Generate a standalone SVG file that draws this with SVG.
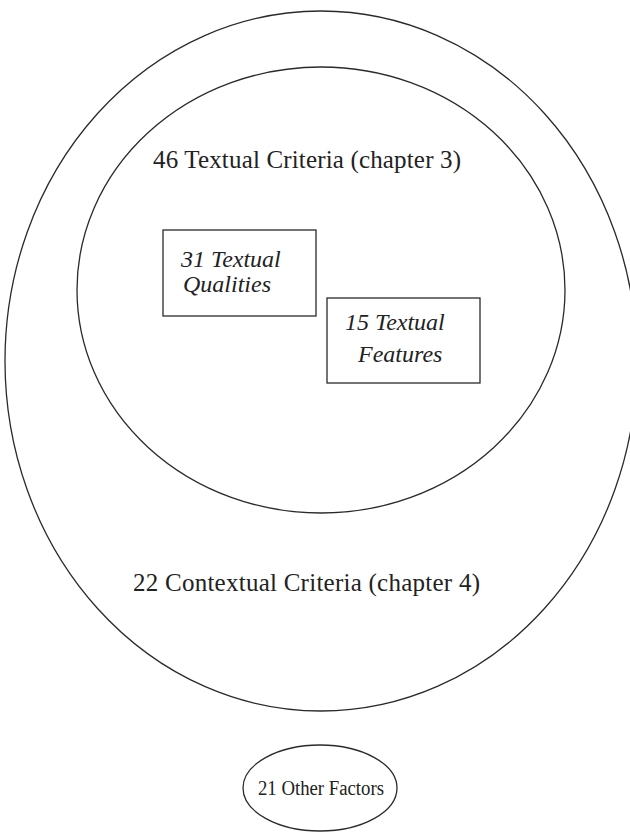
<svg xmlns="http://www.w3.org/2000/svg" width="630" height="832" viewBox="0 0 630 832">
<style>
.ln{fill:none;stroke:#2a2a2a;stroke-width:1.3}
text{font-family:'Liberation Serif','Times New Roman',Times,serif;fill:#222}
.t{font-size:25px}
.ti{font-size:24px;font-style:italic}
</style>
<rect width="630" height="832" fill="#fff"/>
<g id="contextual">
<ellipse class="ln" cx="321" cy="361" rx="316" ry="350"/>
<text class="t" x="133" y="591" textLength="347" font-family="Liberation Serif, serif">22 Contextual Criteria (chapter 4)</text>
</g>
<g id="textual">
<ellipse class="ln" cx="321" cy="290" rx="244" ry="223"/>
<text class="t" x="153" y="168" textLength="308" font-family="Liberation Serif, serif">46 Textual Criteria (chapter 3)</text>
</g>
<g id="qualities">
<rect class="ln" x="163" y="230" width="153" height="86"/>
<text class="ti" x="181" y="267" font-family="Liberation Serif, serif">31 Textual</text>
<text class="ti" x="183" y="292" font-family="Liberation Serif, serif">Qualities</text>
</g>
<g id="features">
<rect class="ln" x="327" y="298" width="153" height="85"/>
<text class="ti" x="345" y="330" font-family="Liberation Serif, serif">15 Textual</text>
<text class="ti" x="358" y="362" font-family="Liberation Serif, serif">Features</text>
</g>
<g id="other">
<ellipse class="ln" cx="320" cy="788" rx="77" ry="43"/>
<text x="258" y="795" style="font-size:20px" textLength="126" lengthAdjust="spacingAndGlyphs" font-family="Liberation Serif, serif">21 Other Factors</text>
</g>
<g id="connectors"/>
</svg>
